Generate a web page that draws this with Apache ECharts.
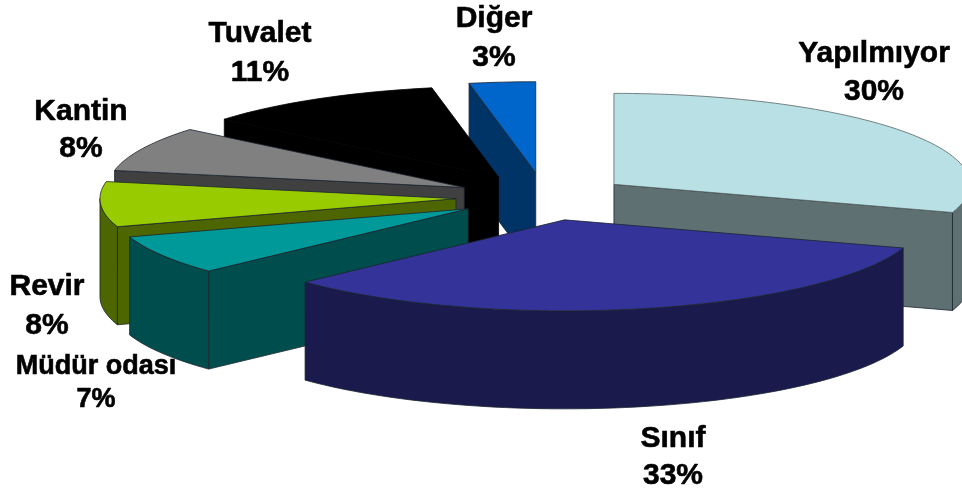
<!DOCTYPE html>
<html>
<head>
<meta charset="utf-8">
<title>Pasta grafiği</title>
<script src="https://cdn.jsdelivr.net/npm/echarts@6/dist/echarts.min.js"></script>
<style>
  html, body { margin: 0; padding: 0; background: #fff; }
  #chart { width: 962px; height: 490px; }
</style>
</head>
<body>
<div id="chart"></div>
<script>
// Chart content
const categories = ['Yapılmıyor', 'Sınıf', 'Müdür odası', 'Revir', 'Kantin', 'Tuvalet', 'Diğer'];
const shares = [30, 33, 7, 8, 8, 11, 3];

// Slice colours: top face and the darker side walls
const topColors = ['#B9E0E4', '#333399', '#009999', '#99CC00', '#808080', '#000000', '#0066CC'];
const sideColors = ['#5F7072', '#1A1A4D', '#004D4D', '#4D6600', '#404040', '#000000', '#003366'];

// Label placement: centre x, centre y, font size, line height
const labelCentres = [[874, 73], [673, 457], [96, 383], [47, 306], [81, 130], [260, 53], [494, 38]];
const labelFonts = [30, 30, 27, 30, 30, 30, 30];
const labelLineHeights = [38, 37, 33, 39, 37, 39, 39];

// Pie projection: an ellipse with vertical extrusion, each slice pulled out along its middle angle
const centreX = 544.8;
const centreY = 197.2;
const radiusX = 356;
const radiusY = 91;
const thickness = 98;
const explosions = [0.24, 0.255, 0.25, 0.25, 0.25, 0.255, 0.27];
const rad = d => d * Math.PI / 180;

const total = shares.reduce((sum, v) => sum + v, 0);
let running = 0;
const slices = shares.map((v, i) => {
  const start = running / total * 360;
  running += v;
  const end = running / total * 360;
  const mid = (start + end) / 2;
  return {
    index: i,
    start,
    end,
    apexX: centreX + explosions[i] * radiusX * Math.sin(rad(mid)),
    apexY: centreY - explosions[i] * radiusY * Math.cos(rad(mid))
  };
});

// Painted back to front
const drawOrder = slices.slice().sort((a, b) => a.apexY - b.apexY).map(s => s.index);

function rimPoint(s, deg) {
  return [s.apexX + radiusX * Math.sin(rad(deg)), s.apexY - radiusY * Math.cos(rad(deg))];
}

function arcPoints(s, from, to) {
  const steps = Math.max(2, Math.ceil((to - from) / 1.5));
  const pts = [];
  for (let k = 0; k <= steps; k++) pts.push(rimPoint(s, from + (to - from) * k / steps));
  return pts;
}

const dropped = p => [p[0], p[1] + thickness];

function face(points, fill, stroke) {
  return {
    type: 'polygon',
    shape: { points },
    style: { fill, stroke, lineWidth: 0.8, lineJoin: 'round' },
    silent: true
  };
}

function renderSlice(params, api) {
  const s = slices[api.value(0)];
  const apex = [s.apexX, s.apexY];
  const side = sideColors[s.index];
  const edge = s.index === 5 ? '#000000' : '#1c2430';
  const children = [];

  // Radial walls that turn towards the viewer
  if (Math.sin(rad(s.start)) < -1e-6) {
    const p = rimPoint(s, s.start);
    children.push(face([apex, p, dropped(p), dropped(apex)], side, edge));
  }
  if (Math.sin(rad(s.end)) > 1e-6) {
    const p = rimPoint(s, s.end);
    children.push(face([apex, p, dropped(p), dropped(apex)], side, edge));
  }

  // Outer wall, only on the front half of the rim
  const from = Math.max(s.start, 90);
  const to = Math.min(s.end, 270);
  if (to > from) {
    const arc = arcPoints(s, from, to);
    children.push(face(arc.concat(arc.map(dropped).reverse()), side, edge));
  }

  // Top face
  const top = [apex].concat(arcPoints(s, s.start, s.end));
  children.push(face(top, topColors[s.index], s.index === 0 ? '#5a6668' : edge));
  return { type: 'group', children };
}

function renderLabel(params, api) {
  const i = api.value(0);
  return {
    type: 'text',
    silent: true,
    style: {
      x: labelCentres[i][0],
      y: labelCentres[i][1],
      text: categories[i] + '\n' + shares[i] + '%',
      align: 'center',
      verticalAlign: 'middle',
      fill: '#000000',
      stroke: '#000000',
      lineWidth: 0.6,
      font: 'bold ' + labelFonts[i] + 'px "Liberation Sans", Arial, sans-serif',
      lineHeight: labelLineHeights[i]
    }
  };
}

const chart = echarts.init(document.getElementById('chart'), null, { renderer: 'canvas' });
chart.setOption({
  animation: false,
  backgroundColor: '#ffffff',
  series: [
    {
      type: 'custom',
      coordinateSystem: 'none',
      renderItem: renderSlice,
      data: drawOrder.map(i => [i]),
      z: 1
    },
    {
      type: 'custom',
      coordinateSystem: 'none',
      renderItem: renderLabel,
      data: categories.map((c, i) => [i]),
      z: 2
    }
  ]
});
</script>
</body>
</html>
